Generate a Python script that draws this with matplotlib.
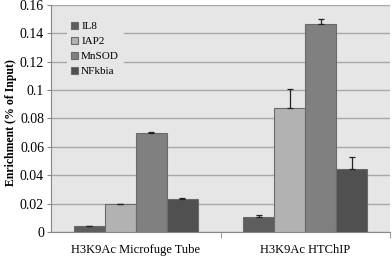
import matplotlib
matplotlib.use("Agg")
import matplotlib.pyplot as plt
import numpy as np

categories = ["H3K9Ac Microfuge Tube", "H3K9Ac HTChIP"]
series = ["IL8", "IAP2", "MnSOD", "NFkbia"]
values = {
    "IL8":    [0.004, 0.0108],
    "IAP2":   [0.0195, 0.0873],
    "MnSOD":  [0.0700, 0.1463],
    "NFkbia": [0.0235, 0.0444],
}
errors = {
    "IL8":    [0.0003, 0.0015],
    "IAP2":   [0.0003, 0.0135],
    "MnSOD":  [0.0004, 0.0035],
    "NFkbia": [0.0003, 0.0087],
}
colors = {"IL8": "#5e5e5e", "IAP2": "#b2b2b2", "MnSOD": "#808080", "NFkbia": "#505050"}
yticks = [0, 0.02, 0.04, 0.06, 0.08, 0.1, 0.12, 0.14, 0.16]
ytick_labels = ["0", "0.02", "0.04", "0.06", "0.08", "0.1", "0.12", "0.14", "0.16"]

plt.rcParams['font.family'] = ['Liberation Serif', 'DejaVu Serif']

fig = plt.figure(figsize=(3.92, 2.58), dpi=100)
ax = fig.add_axes([0.130, 0.1008, 0.865, 0.880])
bg = "#e6e6e6"
ax.set_facecolor(bg)

x = np.arange(len(categories))
w = 0.1825
for i, s in enumerate(series):
    err = np.array(errors[s])
    ax.bar(x + (i - 1.5) * w, values[s], width=w, color=colors[s], edgecolor="#6a6a6a",
           linewidth=0.8, label=s, zorder=3,
           yerr=[np.zeros_like(err), err],
           error_kw=dict(ecolor="#222222", elinewidth=0.9, capsize=2.5,
                         capthick=0.9, zorder=4))

ax.set_xlim(-0.5, 1.5)
ax.set_ylim(0, 0.16)
ax.set_yticks(yticks)
ax.set_yticklabels(ytick_labels, fontsize=10)
ax.yaxis.grid(True, color="#a8a8a8", linewidth=1.0, zorder=0)
ax.set_axisbelow(True)
ax.set_xticks(x)
ax.set_xticklabels(categories, fontsize=9)
ax.tick_params(axis='x', length=0, pad=9)
ax.set_xticks([0.5, 1.5], minor=True)
ax.tick_params(axis='x', which='minor', length=4, color="#888888", direction='out')
ax.tick_params(axis='y', length=3, color="#888888", pad=2)
for sp in ["top", "right"]:
    ax.spines[sp].set_visible(False)
ax.spines["left"].set_color("#888888")
ax.spines["bottom"].set_color("#888888")

ax.set_ylabel("Enrichment (% of Input)", fontsize=8.5, fontweight="bold")
ax.yaxis.set_label_coords(-0.100, 0.48)

leg = ax.legend(loc="upper left", bbox_to_anchor=(0.03, 0.97), frameon=True,
                fontsize=8, handlelength=0.6, handleheight=0.6, handletextpad=0.3,
                labelspacing=0.5, borderpad=0.4, fancybox=False)
leg.get_frame().set_facecolor(bg)
leg.get_frame().set_edgecolor("none")
leg.get_frame().set_alpha(1)

fig.savefig("out.png", dpi=100, facecolor="white")
